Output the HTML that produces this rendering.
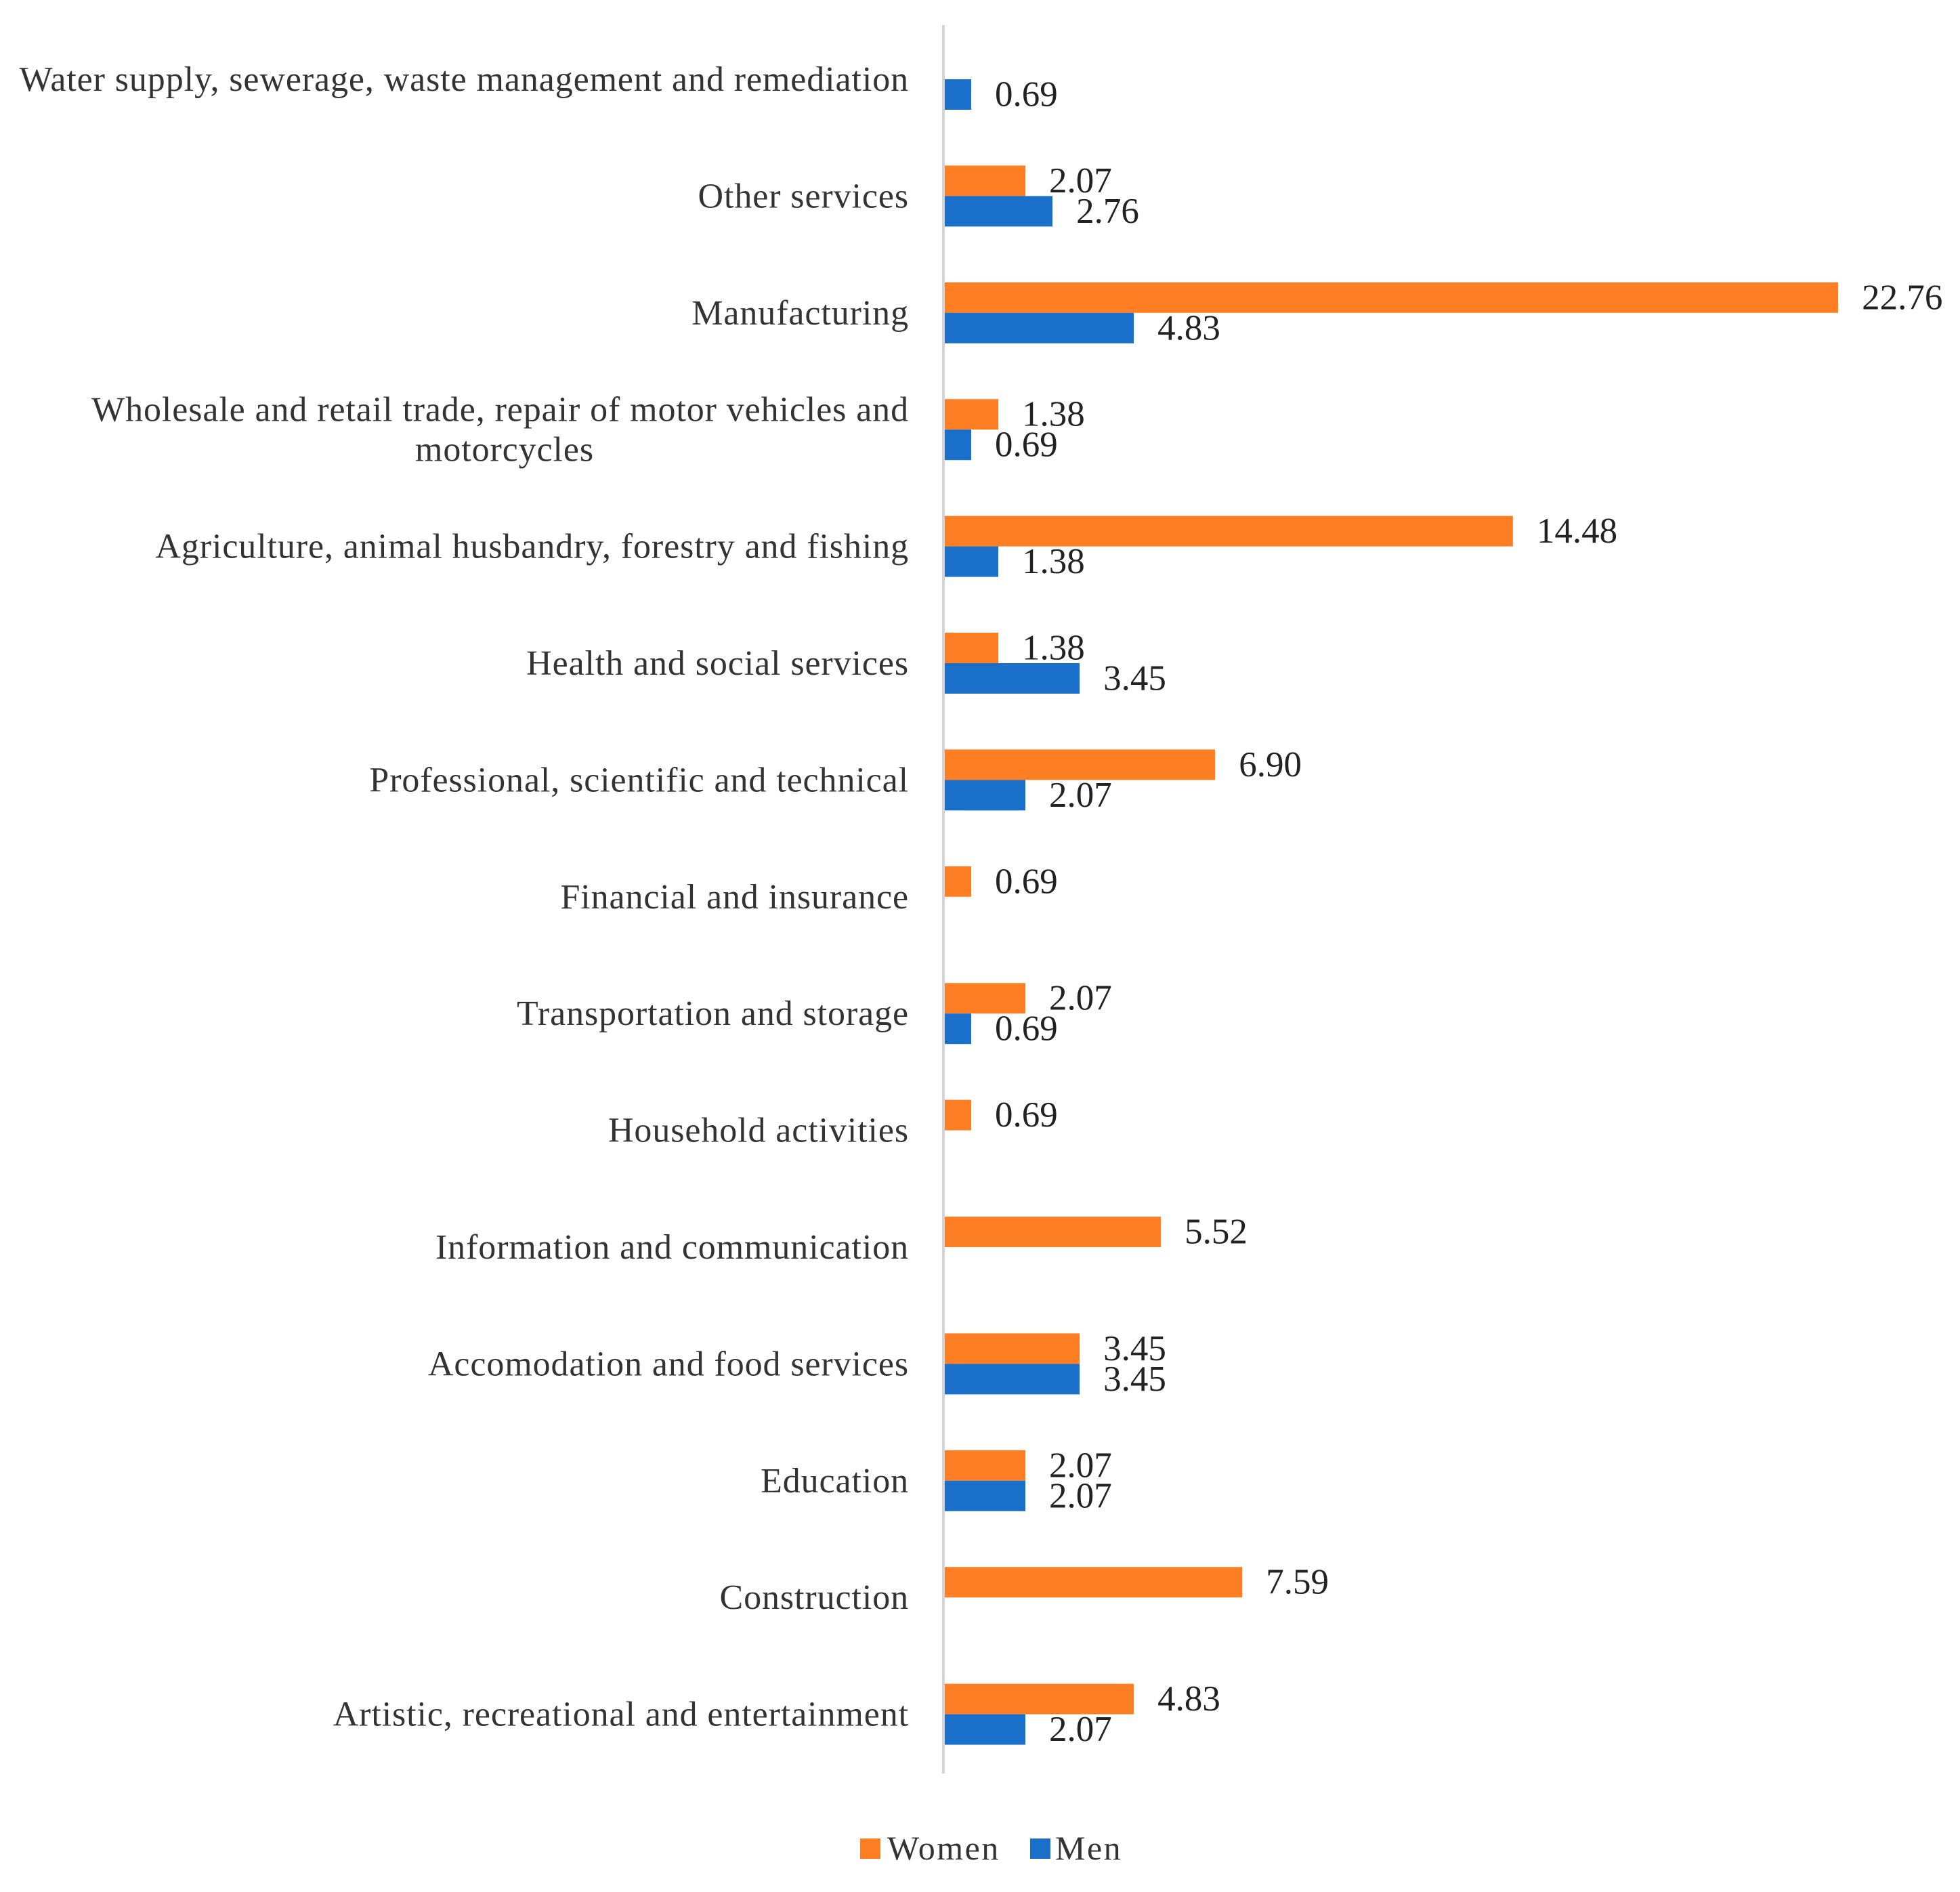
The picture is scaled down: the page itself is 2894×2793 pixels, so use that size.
<!DOCTYPE html>
<html><head><meta charset="utf-8">
<style>
html,body{margin:0;padding:0;background:#fff;}
svg{display:block;font-family:"Liberation Serif","Times New Roman",serif;}
</style></head>
<body>
<svg id="chart" width="2894" height="2793" viewBox="0 0 2894 2793" xmlns="http://www.w3.org/2000/svg">
<rect width="2894" height="2793" fill="#fff"/>
<g id="bars"></g>
<line x1="1393" y1="37" x2="1393" y2="2618" stroke="#d4d4d4" stroke-width="4"/>
<g id="legend">
<rect x="1270" y="2714" width="30" height="30" fill="#fd7e23"/>
<text x="1310" y="2745" font-size="50" letter-spacing="2.5" fill="#333">Women</text>
<rect x="1521" y="2714" width="30" height="30" fill="#1a6fca"/>
<text x="1558" y="2745" font-size="50" letter-spacing="2.5" fill="#333">Men</text>
</g>
</svg>
<script>
const categories = [
 ["Water supply, sewerage, waste management and remediation"],
 ["Other services"],
 ["Manufacturing"],
 ["Wholesale and retail trade, repair of motor vehicles and","motorcycles"],
 ["Agriculture, animal husbandry, forestry and fishing"],
 ["Health and social services"],
 ["Professional, scientific and technical"],
 ["Financial and insurance"],
 ["Transportation and storage"],
 ["Household activities"],
 ["Information and communication"],
 ["Accomodation and food services"],
 ["Education"],
 ["Construction"],
 ["Artistic, recreational and entertainment"]
];
const women = [null,2.07,22.76,1.38,14.48,1.38,6.90,0.69,2.07,0.69,5.52,3.45,2.07,7.59,4.83];
const men   = [0.69,2.76,4.83,0.69,1.38,3.45,2.07,null,0.69,null,null,3.45,2.07,null,2.07];

const NS="http://www.w3.org/2000/svg";
const x0=1394, pxPerUnit=58.0, firstC=117, pitch=172.4, bh=45;
const xs=v=>x0+v*pxPerUnit;
const yc=i=>firstC+i*pitch;
const g=document.getElementById('bars');
function mk(tag,attrs){const e=document.createElementNS(NS,tag);for(const k in attrs)e.setAttribute(k,attrs[k]);g.appendChild(e);return e;}
categories.forEach((lines,i)=>{
  const c=yc(i);
  const t=mk('text',{x:1342,'text-anchor':'end','font-size':52,'letter-spacing':0.9,fill:'#333'});
  
  
  const n=lines.length;
  lines.forEach((ln,j)=>{
    const ts=document.createElementNS(NS,'tspan');
    ts.setAttribute('x', n>1 && j===1 ? 745 : 1342);
    if(n>1 && j===1) ts.setAttribute('text-anchor','middle');
    ts.setAttribute('y', c+17+(j-(n-1)/2)*59);
    ts.textContent=ln; t.appendChild(ts);
  });
  [[women[i],'#fd7e23',c-bh,'women'],[men[i],'#1a6fca',c,'men']].forEach(([v,col,y,s])=>{
    if(v==null) return;
    const r=mk('rect',{x:x0,y:y,width:xs(v)-x0,height:bh,fill:col});
    
    
    const lt=mk('text',{x:xs(v)+35,y:y+bh/2+17,'font-size':53,fill:'#222'});
    
    
    lt.textContent=v.toFixed(2);
  });
});
</script>
</body></html>
